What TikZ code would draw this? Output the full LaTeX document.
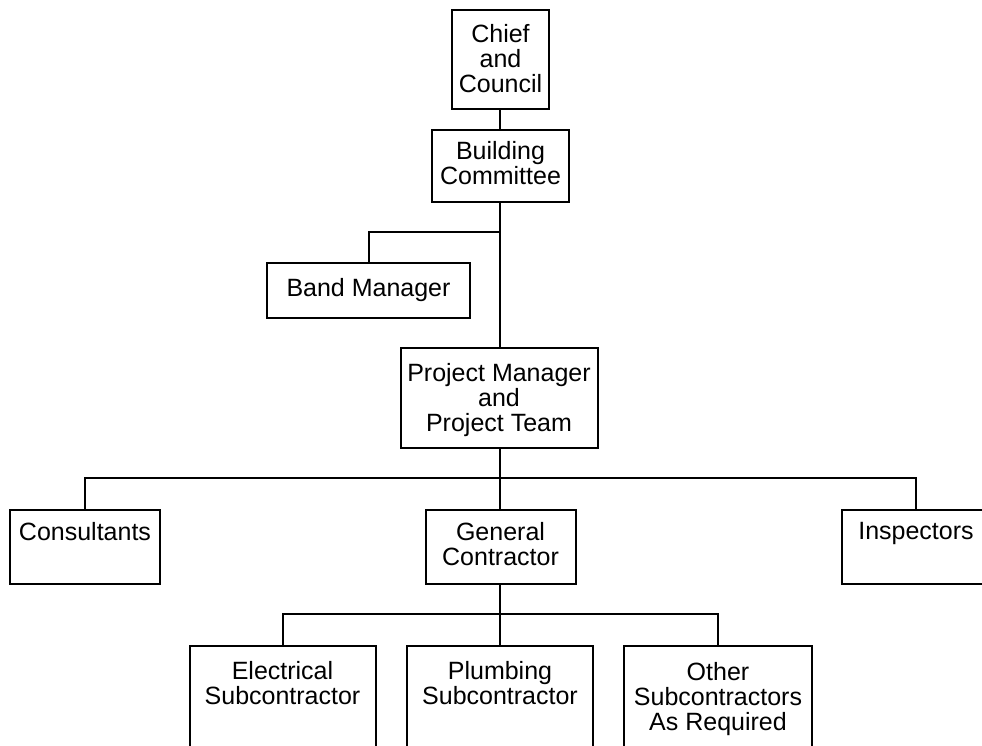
\documentclass[tikz,border=0pt]{standalone}
\usepackage{fontspec}
\setmainfont{Liberation Sans}
\begin{document}
\begin{tikzpicture}[x=1pt,y=-1pt,
  box/.style={draw,line width=2pt,rectangle,inner sep=0pt},
  lbl/.style={anchor=north,inner sep=0pt,align=center,font=\fontsize{25}{25}\selectfont},
  conn/.style={line width=2pt}]
\useasboundingbox (0,0) rectangle (982,745);
\clip (0,0) rectangle (982,745);
% boxes
\node[box,minimum width=97pt,minimum height=99pt] (chief) at (500.5,59.5) {};
\node[box,minimum width=137pt,minimum height=72pt] (bc) at (500.5,166) {};
\node[box,minimum width=203pt,minimum height=55pt] (band) at (368.5,290.5) {};
\node[box,minimum width=197pt,minimum height=100pt] (pm) at (499,398) {};
\node[box,minimum width=150pt,minimum height=74pt] (cons) at (85,547) {};
\node[box,minimum width=150pt,minimum height=74pt] (gc) at (500.5,547) {};
\node[box,minimum width=148pt,minimum height=74pt] (insp) at (916,547) {};
\node[box,minimum width=186pt,minimum height=160pt] (elec) at (282.5,726) {};
\node[box,minimum width=186pt,minimum height=160pt] (plumb) at (500,726) {};
\node[box,minimum width=188pt,minimum height=160pt] (other) at (718,726) {};
% labels
\node[lbl] (tchief) at ([yshift=-15pt]chief.north) {Chief\\and\\Council};
\node[lbl] (tbc) at ([yshift=-12pt]bc.north) {Building\\Committee};
\node[lbl] (tband) at ([yshift=-16pt]band.north) {Band Manager};
\node[lbl] (tpm) at ([yshift=-16pt]pm.north) {Project Manager\\and\\Project Team};
\node[lbl] (tcons) at ([yshift=-13pt]cons.north) {Consultants};
\node[lbl] (tgc) at ([yshift=-13pt]gc.north) {General\\Contractor};
\node[lbl] (tinsp) at ([yshift=-13pt]insp.north) {Inspectors};
\node[lbl] (telec) at ([yshift=-16pt]elec.north) {Electrical\\Subcontractor};
\node[lbl] (tplumb) at ([yshift=-16pt]plumb.north) {Plumbing\\Subcontractor};
\node[lbl] (tother) at ([yshift=-17pt]other.north) {Other\\Subcontractors\\As Required};
% junctions
\coordinate (j1) at (500,232);
\coordinate (j2) at (500,478);
\coordinate (j3) at (500,614);
% connectors
\draw[conn] (chief.south -| j1) -- (bc.north -| j1);
\draw[conn] (bc.south -| j1) -- (pm.north -| j1);
\draw[conn] (band.north) |- (j1);
\draw[conn] (pm.south -| j2) -- (gc.north -| j2);
\draw[conn] (cons.north) |- (j2) -| (insp.north);
\draw[conn] (gc.south -| j3) -- (plumb.north -| j3);
\draw[conn] (elec.north) |- (j3) -| (other.north);
\end{tikzpicture}
\end{document}
